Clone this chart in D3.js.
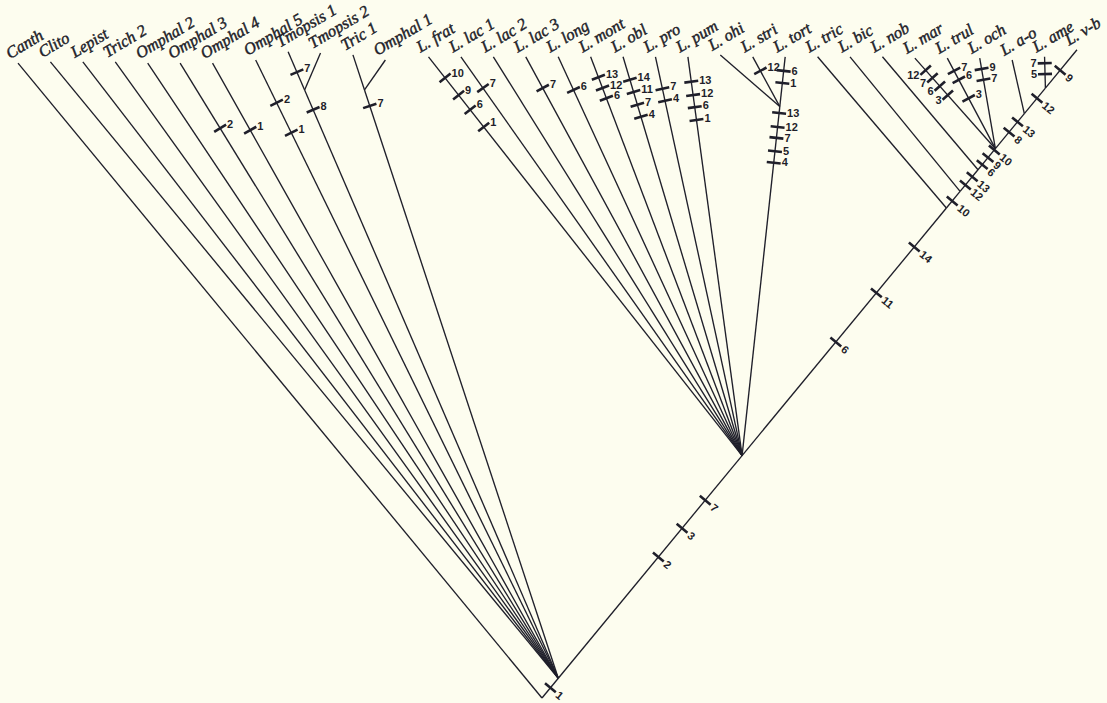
<!DOCTYPE html>
<html>
<head>
<meta charset="utf-8">
<script src="https://cdn.jsdelivr.net/npm/d3@7"></script>
<style>
  body { margin: 0; background: #fdfdef; }
  svg { display: block; }
</style>
</head>
<body>
<svg id="chart"></svg>
<script>
/**
 * DATA
 * */
const leafNames = ["Canth","Clito","Lepist","Trich 2","Omphal 2","Omphal 3","Omphal 4",
  "Omphal 5","Tmopsis 1","Tmopsis 2","Tric 1","Omphal 1",
  "L. frat","L. lac 1","L. lac 2","L. lac 3","L. long","L. mont","L. obl","L. pro","L. pum",
  "L. ohi","L. stri","L. tort",
  "L. tric","L. bic","L. nob","L. mar","L. trul","L. och","L. a-o","L. ame","L. v-b"];
// 0 = basal genera, 1 = omphalinoid group, 2 = Lactarius
const leafGroup = [0,0,0,0,0,0,0, 1,1,1,1,1, 2,2,2,2,2,2,2,2,2, 2,2,2, 2,2,2,2,2,2,2,2,2];
const leafParent = ["root","A","A","A","A","A","A",
  "A","Tmop","Tmop","TricN","TricN",
  "B","B","B","B","B","B","B","B","B",
  "E","E","E",
  "C1","C2","C3","D","D","D","F","G","G"];
// height of each leaf tip (0 = root, 100 = top row)
const leafHeight = [99.5,99.7,99.7,99.7,99.5,99.5,99.5,
  100,101.3,101.1,100.8,100,
  100.5,100.5,100.5,100.5,100.5,100.5,100.5,100.5,100.5,
  100.8,100.5,100.5,
  100.5,100.5,100.5,100.3,100.3,100.3,100,100.5,101.6];

// internal nodes (parents listed before children)
const nodeIds    = ["root","A","B","C1","C2","C3","D","F","G","Tmop","TricN","E"];
const nodeParent = [null,"root","A","B","C1","C2","C3","D","F","A","A","B"];
const nodeHeight = [0,3.1,38,76.8,79.4,82.8,86.1,91.6,95.6,95.3,95.3,92.7];
// side nodes sit on the straight line running to this leaf; the rest sit on the spine
const nodeMain   = [null,null,null,null,null,null,null,null,null,"Tmopsis 1","Tric 1","L. tort"];

// character changes: [branch (child end), height, label]
const ticks = [
  ["A",1.6,"1"],
  ["B",22.1,"2"],["B",26.6,"3"],["B",31.0,"7"],
  ["C1",55.8,"6"],["C1",63.5,"11"],["C1",70.7,"14"],
  ["C2",77.9,"10"],
  ["C3",80.4,"12"],["C3",81.7,"13"],
  ["D",83.6,"6"],["D",84.7,"9"],["D",85.9,"10"],
  ["F",88.7,"8"],["F",90.3,"13"],
  ["G",94.0,"12"],
  ["L. v-b",98.4,"9"],
  ["Omphal 3",89.3,"2"],
  ["Omphal 4",89.0,"1"],
  ["Omphal 5",93.3,"2"],["Omphal 5",88.6,"1"],
  ["Tmop",92.2,"8"],["Tmopsis 1",98.1,"7"],
  ["TricN",92.8,"7"],
  ["L. frat",97.2,"10"],["L. frat",94.5,"9"],["L. frat",92.2,"6"],["L. frat",89.5,"1"],
  ["L. lac 1",95.6,"7"],
  ["L. lac 3",95.6,"7"],
  ["L. long",95.3,"6"],
  ["L. mont",97.3,"13"],["L. mont",95.6,"12"],["L. mont",94.0,"6"],
  ["L. obl",96.9,"14"],["L. obl",95.0,"11"],["L. obl",93.0,"7"],["L. obl",91.1,"4"],
  ["L. pro",95.5,"7"],["L. pro",93.6,"4"],
  ["L. pum",96.6,"13"],["L. pum",94.5,"12"],["L. pum",92.6,"6"],["L. pum",90.6,"1"],
  ["L. stri",98.3,"12"],
  ["L. tort",98.3,"6"],["L. tort",96.4,"1"],
  ["E",91.7,"13"],["E",89.5,"12"],["E",87.8,"7"],["E",85.7,"5"],["E",83.9,"4"],
  ["L. mar",98.4,"12"],["L. mar",97.2,"7"],["L. mar",95.9,"6"],["L. mar",94.5,"3"],
  ["L. trul",98.3,"7"],["L. trul",96.9,"6"],["L. trul",94.0,"3"],
  ["L. och",98.6,"9"],["L. och",96.9,"7"],
  ["L. ame",99.5,"7"],["L. ame",97.8,"5"]
];
const leftLabelled = ["L. mar","L. ame"];

/**
 * LAYOUT
 * */
const width = 1107, height = 703;
const ink = "#1f1f2a";

const svg = d3.select("#chart").attr("width", width).attr("height", height);
svg.append("rect").attr("width", width).attr("height", height).attr("fill", "#fdfdef");

const gap = 0.33;
const slot = leafNames.map((d, i) => i + gap * leafGroup[i]);
const x = d3.scaleLinear().domain([0, d3.max(slot)]).range([18, 1077]);
const y = d3.scaleLinear().domain([0, 100]).range([698, 60]);

const pos = new Map();
const parentOf = new Map();
leafNames.forEach((d, i) => {
  pos.set(d, { x: x(slot[i]), y: y(leafHeight[i]) });
  parentOf.set(d, leafParent[i]);
});

const first = pos.get(leafNames[0]);
const tip = pos.get(leafNames[leafNames.length - 1]);

nodeIds.forEach((id, i) => {
  const ny = y(nodeHeight[i]);
  parentOf.set(id, nodeParent[i]);
  if (nodeParent[i] === null) {
    // root: where the outgroup line and the spine meet symmetrically
    const a = ny - first.y, b = ny - tip.y;
    pos.set(id, { x: first.x + (tip.x - first.x) * a / (a + b), y: ny });
  } else if (nodeMain[i] === null) {
    const r = pos.get("root");
    const t = (r.y - ny) / (r.y - tip.y);
    pos.set(id, { x: r.x + t * (tip.x - r.x), y: ny });
  } else {
    const p = pos.get(nodeParent[i]), l = pos.get(nodeMain[i]);
    const t = (p.y - ny) / (p.y - l.y);
    pos.set(id, { x: p.x + t * (l.x - p.x), y: ny });
  }
});

const spineIds = new Set(nodeIds.filter((d, i) => i > 0 && nodeMain[i] === null));
spineIds.add(leafNames[leafNames.length - 1]);

// branches
const edges = [...leafNames, ...nodeIds.slice(1)].map(c => [parentOf.get(c), c]);

svg.append("g")
  .selectAll("line")
  .data(edges)
  .join("line")
  .attr("x1", d => pos.get(d[0]).x)
  .attr("y1", d => pos.get(d[0]).y)
  .attr("x2", d => pos.get(d[1]).x)
  .attr("y2", d => pos.get(d[1]).y)
  .attr("stroke", ink)
  .attr("stroke-width", 1.35);

// ticks
const tickData = ticks.map(([branch, h, label]) => {
  const p = pos.get(parentOf.get(branch)), q = pos.get(branch);
  const ty = y(h);
  const t = (p.y - ty) / (p.y - q.y);
  const px = p.x + t * (q.x - p.x);
  const dx = q.x - p.x, dy = q.y - p.y, len = Math.hypot(dx, dy);
  const n = { x: -dy / len, y: dx / len };
  return { branch, label, px, py: ty, n, spine: spineIds.has(branch), left: leftLabelled.includes(branch) };
});

const half = 7;
svg.append("g")
  .selectAll("line")
  .data(tickData)
  .join("line")
  .attr("x1", d => d.px - d.n.x * half)
  .attr("y1", d => d.py - d.n.y * half)
  .attr("x2", d => d.px + d.n.x * half)
  .attr("y2", d => d.py + d.n.y * half)
  .attr("stroke", ink)
  .attr("stroke-width", 2.6);

svg.append("g")
  .selectAll("text")
  .data(tickData)
  .join("text")
  .attr("transform", d => {
    if (d.spine) {
      const ang = Math.atan2(d.n.y, d.n.x) * 180 / Math.PI;
      return `translate(${d.px + d.n.x * (half + 2)},${d.py + d.n.y * (half + 2)}) rotate(${ang})`;
    }
    if (d.left) return `translate(${d.px - d.n.x * half - 1},${d.py - d.n.y * half})`;
    return `translate(${d.px + d.n.x * half + 1},${d.py + d.n.y * half - 1})`;
  })
  .attr("text-anchor", d => d.left ? "end" : "start")
  .attr("dominant-baseline", "central")
  .attr("font-family", "Liberation Sans, Arial, sans-serif")
  .attr("font-weight", "bold")
  .attr("font-size", 11)
  .attr("fill", ink)
  .text(d => d.label);

// taxon names
svg.append("g")
  .selectAll("text")
  .data(leafNames)
  .join("text")
  .attr("transform", d => `translate(${pos.get(d).x - 8},${pos.get(d).y - 4}) rotate(-31)`)
  .attr("font-family", "Liberation Serif, Times New Roman, serif")
  .attr("font-style", "italic")
  .attr("font-size", 16.5)
  .attr("fill", ink)
  .attr("stroke", ink)
  .attr("stroke-width", 0.45)
  .text(d => d);
</script>
</body>
</html>
